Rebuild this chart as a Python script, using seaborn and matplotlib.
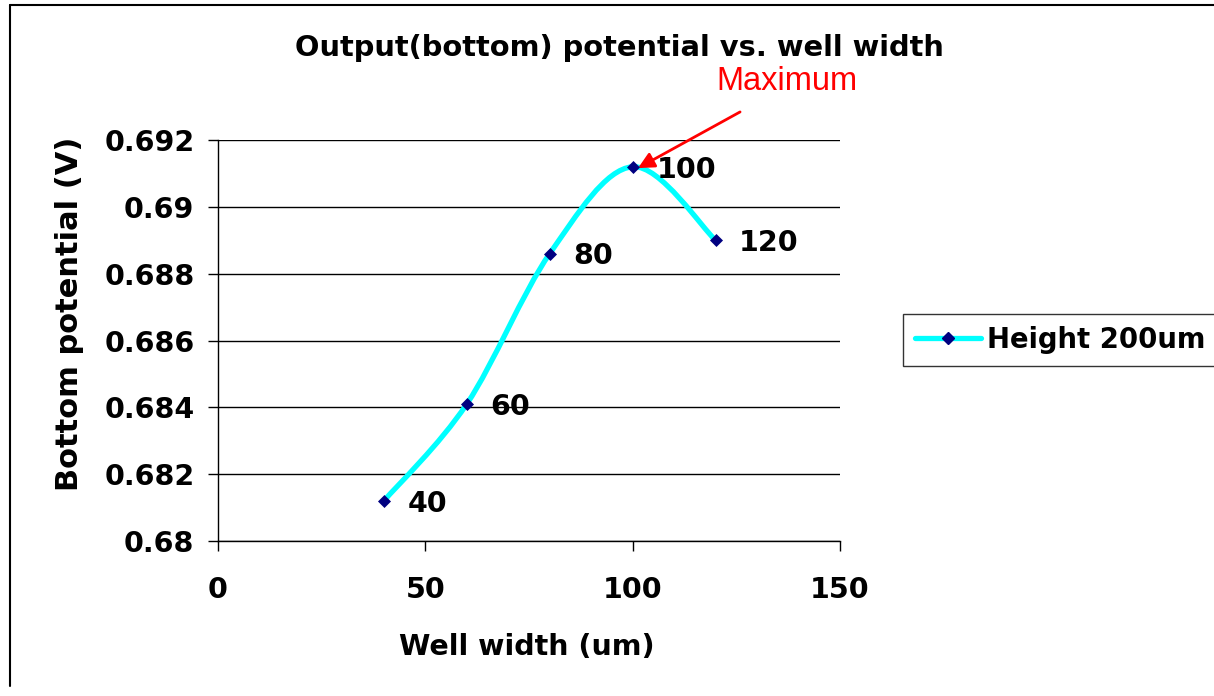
import numpy as np
import matplotlib
matplotlib.use("Agg")
import matplotlib.pyplot as plt
import seaborn as sns
from matplotlib.path import Path
from matplotlib.patches import PathPatch
from matplotlib.lines import Line2D

# data
well_width = [40, 60, 80, 100, 120]
bottom_potential = [0.6812, 0.6841, 0.6886, 0.6912, 0.6890]
point_labels = ["40", "60", "80", "100", "120"]
series_name = "Height 200um"
x_ticks = [0, 50, 100, 150]
y_ticks = [0.68, 0.682, 0.684, 0.686, 0.688, 0.69, 0.692]
y_tick_labels = ["0.68", "0.682", "0.684", "0.686", "0.688", "0.69", "0.692"]

LINE_COLOR = "#00FFFF"
MARKER_COLOR = "#000080"
FS = 20.5

sns.set_style("white")
plt.rcParams["font.family"] = ["DejaVu Sans"]
plt.rcParams["font.weight"] = "bold"
plt.rcParams["text.color"] = "black"
plt.rcParams["xtick.color"] = "black"
plt.rcParams["ytick.color"] = "black"

W, H = 1214, 696
fig = plt.figure(figsize=(W / 100, H / 100), dpi=100)
ax = fig.add_axes([218 / W, 1 - 541 / H, (840 - 218) / W, (541 - 140) / H])


def smooth_path(xs, ys):
    # excel-style smoothed line: cubic bezier through the points
    pts = np.column_stack([xs, ys])
    n = len(pts)
    verts = [tuple(pts[0])]
    codes = [Path.MOVETO]
    for i in range(n - 1):
        p0 = pts[max(i - 1, 0)]
        p1 = pts[i]
        p2 = pts[i + 1]
        p3 = pts[min(i + 2, n - 1)]
        c1 = p1 + (p2 - p0) / 6
        c2 = p2 - (p3 - p1) / 6
        verts += [tuple(c1), tuple(c2), tuple(p2)]
        codes += [Path.CURVE4] * 3
    return Path(verts, codes)


ax.add_patch(PathPatch(smooth_path(well_width, bottom_potential), fill=False,
                       edgecolor=LINE_COLOR, lw=3.8, capstyle="round",
                       joinstyle="round", zorder=3))
sns.scatterplot(x=well_width, y=bottom_potential, marker="D", s=44,
                color=MARKER_COLOR, edgecolor=MARKER_COLOR, linewidth=0,
                legend=False, zorder=4, ax=ax)

for x, y, lab in zip(well_width, bottom_potential, point_labels):
    ax.annotate(lab, (x, y), xytext=(17, -2), textcoords="offset points",
                ha="left", va="center", fontsize=FS, fontweight="bold",
                color="black")

ax.set_xlim(0, 150)
ax.set_ylim(0.68, 0.692)
ax.set_xticks(x_ticks)
ax.set_xticklabels([str(t) for t in x_ticks])
ax.set_yticks(y_ticks)
ax.set_yticklabels(y_tick_labels)
ax.tick_params(axis="both", labelsize=FS, direction="out", length=7,
               width=1, color="black", labelcolor="black",
               bottom=True, left=True, pad=10)
ax.tick_params(axis="x", pad=18)
for t in ax.get_xticklabels() + ax.get_yticklabels():
    t.set_fontweight("bold")
ax.set_xlabel("")
ax.set_ylabel("")

ax.grid(axis="y", color="black", lw=1)
ax.grid(axis="x", visible=False)
ax.set_axisbelow(True)
for side in ["top", "right"]:
    ax.spines[side].set_visible(False)
for side in ["left", "bottom"]:
    ax.spines[side].set_color("black")
    ax.spines[side].set_linewidth(1)

# "Maximum" callout
ax.text(137.2, 0.69374, "Maximum", color="red", fontsize=23.5,
        fontweight="normal", family="Liberation Sans", ha="center",
        va="center", clip_on=False)
ax.annotate("", xy=(101.3, 0.69116), xytext=(125.9, 0.69284),
            annotation_clip=False,
            arrowprops=dict(arrowstyle="-|>", color="red", lw=2,
                            mutation_scale=24, shrinkA=0, shrinkB=0))

fig.text(619 / W, 1 - 48 / H, "Output(bottom) potential vs. well width",
         ha="center", va="center", fontsize=20.8, fontweight="bold")
fig.text(527 / W, 1 - 647 / H, "Well width (um)", ha="center", va="center",
         fontsize=FS, fontweight="bold")
fig.text(70 / W, 1 - 314 / H, "Bottom potential (V)", ha="center",
         va="center", rotation=90, fontsize=22, fontweight="bold")

handle = Line2D([], [], color=LINE_COLOR, lw=3.8, marker="D",
                markersize=6.5, markerfacecolor=MARKER_COLOR,
                markeredgecolor=MARKER_COLOR)
leg = fig.legend([handle], [series_name], loc="center left",
                 bbox_to_anchor=(903 / W, 1 - 340 / H), frameon=True,
                 fancybox=False, shadow=False, borderpad=0.42,
                 handlelength=2.4, handletextpad=0.25, borderaxespad=0,
                 prop={"size": 19.8, "weight": "bold"})
leg.get_frame().set_edgecolor("black")
leg.get_frame().set_linewidth(1)

# outer chart border (right and bottom fall outside the picture)
fig.add_artist(Line2D([10 / W, 10 / W], [1 - 5 / H, 1 - 686 / H],
                      color="black", lw=1.5))
fig.add_artist(Line2D([10 / W, 1.0], [1 - 5 / H, 1 - 5 / H],
                      color="black", lw=1.5))

fig.savefig("out.png", dpi=100)
